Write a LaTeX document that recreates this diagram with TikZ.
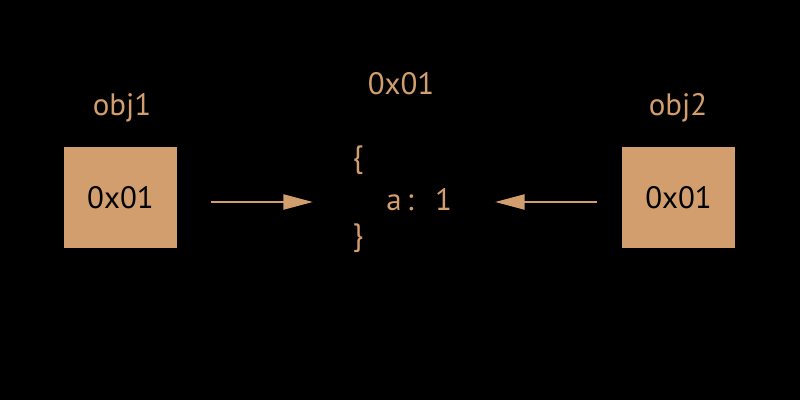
\documentclass[tikz,border=0pt]{standalone}
\usepackage{fontspec}
\setmainfont{PT Sans}
\usepackage{tikz}
\usetikzlibrary{arrows.meta,positioning}
\definecolor{reftan}{HTML}{D29E6E}
\tikzset{
  refbox/.style={rectangle,fill=reftan,minimum width=113*0.7113pt,minimum height=101*0.7113pt,inner sep=0pt,font=\fontsize{22}{26}\selectfont,text=black},
  reflabel/.style={font=\fontsize{22}{26}\selectfont,text=reftan,inner sep=0pt},
  ptr/.style={-{Triangle[length=21pt,width=10.5pt]},reftan,line width=2pt}
}
\begin{document}
\begin{tikzpicture}[x=0.025cm,y=-0.025cm]
\fill[black] (0,0) rectangle (800,400);
\node[refbox] (box1) at (120.5,197.5) {\raisebox{-2pt}{0x01}};
\node[refbox] (box2) at (678.5,197.5) {\raisebox{-2pt}{0x01}};
\node[reflabel,anchor=base] (name1) at (122,116) {obj1};
\node[reflabel,anchor=base] (name2) at (678,116) {obj2};
\node[reflabel,anchor=base] (addr) at (401,95) {0x01};
\node[reflabel] (lbrace) at (358,160) {\{};
\node[reflabel,anchor=base west] (entry) at (386,210) {a\,:\ \ \,1};
\node[reflabel] (rbrace) at (358,238) {\}};
\coordinate (tip1) at (313,202);
\coordinate (tip2) at (495,202);
\draw[ptr,shorten <=34*0.7113pt] (box1.east |- tip1) -- (tip1);
\draw[ptr,shorten <=25*0.7113pt] (box2.west |- tip2) -- (tip2);
\end{tikzpicture}
\end{document}
